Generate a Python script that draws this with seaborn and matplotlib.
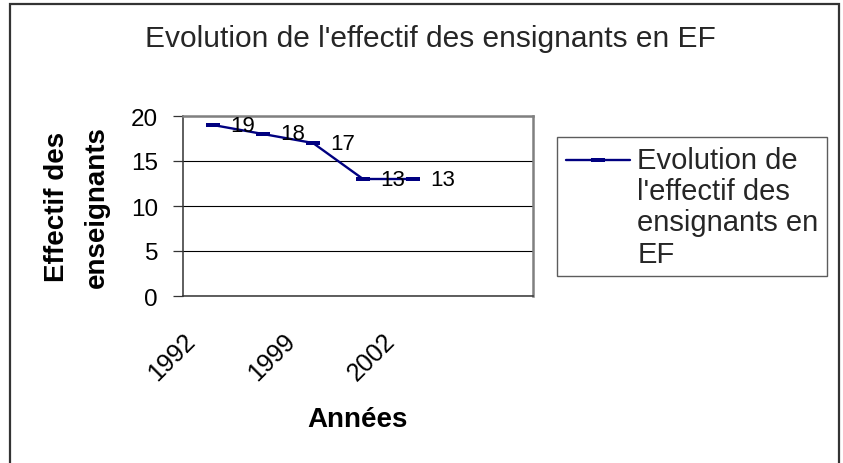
import matplotlib
matplotlib.use("Agg")
import matplotlib.pyplot as plt
import matplotlib.transforms as mtransforms
from matplotlib.path import Path
from matplotlib.patches import Rectangle
from matplotlib.legend_handler import HandlerLine2D
import seaborn as sns

# --- data ---
effectif = [19, 18, 17, 13, 13]
n_slots = 7  # category axis has 7 slots, only 5 filled
tick_pos = [0, 2, 4]
tick_labels = ["1992", "1999", "2002"]
series_name = "Evolution de\nl'effectif des\nensignants en\nEF"

title = "Evolution de l'effectif des ensignants en EF"
xlabel = "Années"
ylabel = "Effectif des\nenseignants"

navy = "#000080"


class FirstLineHandler(HandlerLine2D):
    # Excel puts the legend key next to the first line of a wrapped label
    def __init__(self, dy, **kw):
        super().__init__(**kw)
        self.dy = dy

    def create_artists(self, legend, orig_handle, xdescent, ydescent,
                       width, height, fontsize, trans):
        trans = mtransforms.Affine2D().translate(0, self.dy) + trans
        return super().create_artists(legend, orig_handle, xdescent, ydescent,
                                      width, height, fontsize, trans)


sns.set_theme(style="white")
plt.rcParams["font.family"] = ["Liberation Sans", "DejaVu Sans"]

W, H = 843, 464
fig = plt.figure(figsize=(W / 100, H / 100), dpi=100)
ax = fig.add_axes([183 / W, 1 - 297 / H, 350 / W, 180 / H])

# wide flat square marker like the Excel one
rect_marker = Path([(-1.5, -0.5), (1.5, -0.5), (1.5, 0.5), (-1.5, 0.5), (-1.5, -0.5)])

xs = list(range(len(effectif)))
sns.lineplot(x=xs, y=effectif, ax=ax, color=navy, linewidth=1.7,
             marker=rect_marker, markersize=10, markeredgewidth=0,
             markerfacecolor=navy, label=series_name)

for x, v in zip(xs, effectif):
    ax.annotate(str(v), (x, v), xytext=(12.5, 0), textcoords="offset points",
                ha="left", va="center", fontsize=16, color="black")

ax.set_xlim(-0.6, n_slots - 0.6)
ax.set_ylim(0, 20)
ax.set_yticks([0, 5, 10, 15, 20])
ax.yaxis.grid(True, color="black", linewidth=0.8)
ax.xaxis.grid(False)

ax.tick_params(axis="y", left=True, length=7, width=0.9, color="#333333",
               pad=11, labelsize=17.5, labelcolor="black")
ax.tick_params(axis="x", bottom=False, length=0, pad=0)
ax.set_xticks(tick_pos)
ax.set_xticklabels(tick_labels, rotation=45, ha="center", va="center",
                   fontsize=18, color="black")
shift = mtransforms.ScaledTranslation(-0.41, -0.60, fig.dpi_scale_trans)
for lab in ax.get_xticklabels():
    lab.set_transform(lab.get_transform() + shift)

for side in ["top", "right"]:
    ax.spines[side].set_color("#808080")
    ax.spines[side].set_linewidth(1.8)
for side in ["left", "bottom"]:
    ax.spines[side].set_color("#333333")
    ax.spines[side].set_linewidth(1.1)

ax.set_ylabel(ylabel, fontsize=20, fontweight="bold", va="center", color="black")
ax.yaxis.label.set_linespacing(1.7)
ax.yaxis.set_label_coords((77 - 183) / 350, 0.5)
ax.set_xlabel(xlabel, fontsize=20, fontweight="bold", va="center", color="black")
ax.xaxis.set_label_coords(0.5, (297 - 420) / 180)

fig.text(430 / W, 1 - 39 / H, title, ha="center", va="center", fontsize=21.5)

handles, labels = ax.get_legend_handles_labels()
leg = ax.legend(handles, labels, loc="upper left",
                bbox_to_anchor=(557 / W, 1 - 138 / H),
                bbox_transform=fig.transFigure, fontsize=21, frameon=True,
                fancybox=False, handlelength=2.2, handletextpad=0.25,
                borderpad=0.3, borderaxespad=0,
                handler_map={handles[0]: FirstLineHandler(dy=34)})
leg.get_frame().set_edgecolor("#333333")
leg.get_frame().set_linewidth(1.0)
for t in leg.get_texts():
    t.set_linespacing(1.15)

# outer chart frame (bottom edge falls outside the picture)
fig.patches.append(Rectangle((10 / W, -0.05), 829 / W, 1.05 - 5 / H,
                             transform=fig.transFigure, fill=False,
                             edgecolor="#333333", linewidth=1.6))

fig.savefig("out.png", dpi=100)
